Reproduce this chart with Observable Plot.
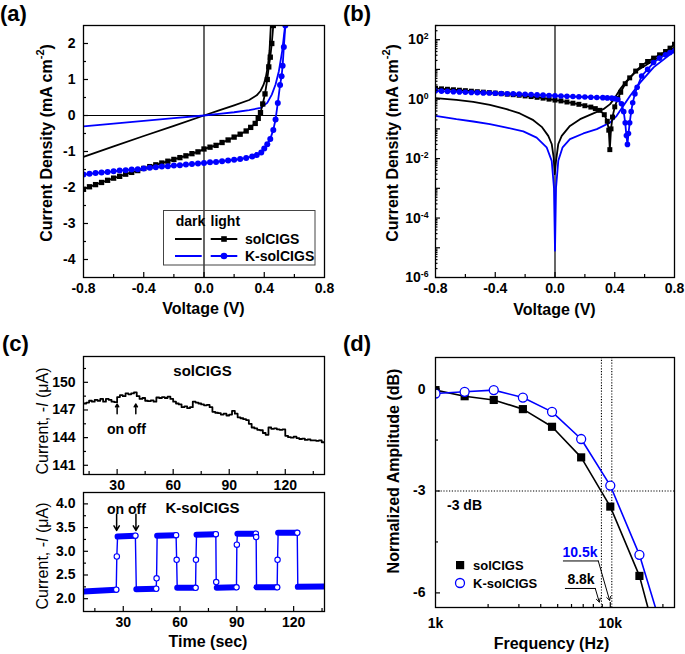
<!DOCTYPE html>
<html><head><meta charset="utf-8">
<script src="https://cdn.jsdelivr.net/npm/d3@7"></script>
<script src="https://cdn.jsdelivr.net/npm/@observablehq/plot@0.6"></script>
<style>
html,body{margin:0;padding:0;background:#fff;}
#root{position:relative;width:685px;height:654px;overflow:hidden;background:#fff;font-family:"Liberation Sans",Arial,Helvetica,sans-serif;}
</style></head>
<body><div id="root"></div>
<script>
// ---------- Panel (a): J-V, linear ----------
const aDarkSolV = [-0.8,-0.6,-0.4,-0.2,0,0.1,0.2,0.3,0.35,0.375,0.395,0.41,0.425,0.435,0.445];
const aDarkSolJ = [-1.15,-0.86,-0.57,-0.29,0,0.14,0.28,0.43,0.56,0.68,0.85,1.05,1.4,1.8,2.6];
const aDarkKV = [-0.8,-0.6,-0.4,-0.2,0,0.1,0.2,0.3,0.375,0.42,0.45,0.475,0.497,0.519,0.534,0.545];
const aDarkKJ = [-0.30,-0.225,-0.15,-0.075,0,0.045,0.09,0.15,0.21,0.35,0.58,0.86,1.23,1.79,2.34,2.7];
const aLightSolV = [-0.8,-0.76,-0.72,-0.68,-0.64,-0.6,-0.56,-0.52,-0.48,-0.44,-0.4,-0.36,-0.32,-0.28,-0.24,-0.2,-0.16,-0.12,-0.08,-0.04,0,0.04,0.08,0.12,0.16,0.2,0.24,0.28,0.31,0.34,0.36,0.375,0.39,0.405,0.42,0.43,0.44,0.45,0.46,0.47];
const aLightSolJ = [-2.05,-1.98,-1.92,-1.86,-1.8,-1.74,-1.69,-1.63,-1.58,-1.53,-1.47,-1.42,-1.37,-1.32,-1.27,-1.22,-1.17,-1.12,-1.06,-1.01,-0.93,-0.88,-0.83,-0.75,-0.68,-0.6,-0.52,-0.43,-0.33,-0.22,-0.08,0.08,0.32,0.6,1.0,1.35,1.62,2.0,2.5,3.0];
const aLightKV = [-0.8,-0.76,-0.72,-0.68,-0.64,-0.6,-0.56,-0.52,-0.48,-0.44,-0.4,-0.36,-0.32,-0.28,-0.24,-0.2,-0.16,-0.12,-0.08,-0.04,0,0.04,0.08,0.12,0.16,0.2,0.24,0.28,0.32,0.35,0.38,0.4,0.42,0.44,0.46,0.475,0.49,0.505,0.515,0.522,0.53,0.54,0.55];
const aLightKJ = [-1.64,-1.62,-1.6,-1.58,-1.57,-1.55,-1.53,-1.52,-1.5,-1.49,-1.47,-1.45,-1.44,-1.42,-1.41,-1.39,-1.38,-1.36,-1.35,-1.33,-1.32,-1.3,-1.29,-1.27,-1.25,-1.23,-1.21,-1.18,-1.14,-1.1,-1.03,-0.92,-0.8,-0.65,-0.4,-0.11,0.35,0.85,1.09,1.38,1.9,2.5,3.2];
const aXMajor = [-0.8,-0.4,0,0.4,0.8], aXMinor = [-0.6,-0.2,0.2,0.6];
const aYMajor = [-4,-3,-2,-1,0,1,2], aYMinor = [-3.5,-2.5,-1.5,-0.5,0.5,1.5];

// ---------- Panel (b): |J|-V, log ----------
const bDarkSolV = [-0.8,-0.66,-0.547,-0.436,-0.324,-0.235,-0.145,-0.089,-0.045,-0.022,-0.009,-0.002,0.007,0.022,0.045,0.1,0.168,0.257,0.324,0.369,0.402,0.436,0.48,0.548,0.637,0.726,0.8];
const bDarkSolJ = [1.08,0.95,0.81,0.64,0.46,0.33,0.196,0.117,0.058,0.031,0.011,0.003,0.0084,0.031,0.058,0.126,0.212,0.33,0.46,0.68,1.14,2.17,4.1,9.0,17.1,32.6,55];
const bDarkKV = [-0.8,-0.66,-0.547,-0.436,-0.324,-0.212,-0.123,-0.056,-0.022,-0.007,0,0.007,0.022,0.051,0.1,0.19,0.28,0.37,0.413,0.458,0.503,0.57,0.66,0.8];
const bDarkKJ = [0.275,0.212,0.177,0.144,0.111,0.082,0.051,0.024,0.0084,0.00106,0.000008,0.00106,0.0084,0.024,0.045,0.07,0.098,0.164,0.275,0.6,1.3,3.6,11.7,42];
const bLightSolV = [-0.8,-0.76,-0.72,-0.68,-0.64,-0.6,-0.56,-0.52,-0.48,-0.44,-0.4,-0.36,-0.32,-0.28,-0.24,-0.2,-0.16,-0.12,-0.08,-0.04,0,0.04,0.08,0.12,0.16,0.2,0.24,0.27,0.3,0.33,0.35,0.36,0.367,0.375,0.385,0.4,0.42,0.44,0.47,0.5,0.54,0.58,0.62,0.66,0.7,0.74,0.77,0.8];
const bLightSolJ = [2.3,2.22,2.15,2.07,2.0,1.93,1.85,1.78,1.72,1.66,1.6,1.53,1.47,1.41,1.35,1.28,1.22,1.15,1.08,1.0,0.93,0.87,0.8,0.73,0.67,0.6,0.54,0.48,0.42,0.3,0.18,0.09,0.02,0.1,0.25,0.55,1.05,1.7,3.3,5.2,8.8,13.5,18.5,24,31,40,52,70];
const bLightKV = [-0.8,-0.76,-0.72,-0.68,-0.64,-0.6,-0.56,-0.52,-0.48,-0.44,-0.4,-0.36,-0.32,-0.28,-0.24,-0.2,-0.16,-0.12,-0.08,-0.04,0,0.04,0.08,0.12,0.16,0.2,0.24,0.28,0.32,0.35,0.38,0.4,0.42,0.445,0.46,0.47,0.478,0.485,0.492,0.5,0.51,0.52,0.535,0.55,0.58,0.62,0.66,0.7,0.74,0.77,0.8];
const bLightKJ = [1.9,1.86,1.82,1.78,1.75,1.71,1.68,1.65,1.62,1.6,1.57,1.55,1.52,1.5,1.47,1.45,1.42,1.39,1.36,1.33,1.3,1.27,1.25,1.22,1.2,1.18,1.16,1.14,1.12,1.1,1.08,1.04,0.97,0.7,0.38,0.16,0.06,0.03,0.07,0.16,0.38,0.75,1.5,2.5,6,10,17,24,31,37,42];
const bYMajor = [1e-6,1e-5,1e-4,1e-3,1e-2,1e-1,1,10,100];
const bYLabels = [1e-6,1e-4,1e-2,1,100];
const bYMinorMult = [2,3,4,5,6,7,8,9];

// ---------- Panel (c): photoresponse ----------
const cSolT = [12,13.5,15,16.5,18,19.5,21,22.5,24,25.5,27,28.5,30,31.5,33,34.5,36,37.5,39,40.5,42,43.5,45,46.5,48,49.5,51,52.5,54,55.5,57,58.5,60,61.5,63,64.5,66,67.5,69,70.5,72,73.5,75,76.5,78,79.5,81,82.5,84,85.5,87,88.5,90,91.5,93,94.5,96,97.5,99,100.5,102,103.5,105,106.5,108,109.5,111,112.5,114,115.5,117,118.5,120,121.5,123,124.5,126,127.5,129,130.5,132,133.5,135,136.5,138,139.5,141];
const cSolI = [147.7,147.8,148.0,147.9,148.1,148.0,148.2,147.9,148.2,148.1,147.9,147.85,148.4,148.6,148.5,148.8,148.7,148.8,148.9,148.5,148.2,148.3,148.0,147.95,148.05,147.9,148.35,148.3,148.4,148.3,148.45,148.2,147.9,147.7,147.6,147.3,147.4,147.2,147.3,147.9,147.8,147.7,147.6,147.5,147.55,147.3,146.8,146.7,146.65,146.5,146.6,146.4,146.5,146.9,146.6,146.2,146.1,146.0,145.9,145.5,145.1,145.0,144.85,144.8,144.5,144.3,145.1,144.95,145.0,144.9,144.85,144.9,144.2,144.05,144.0,144.1,143.95,143.85,143.9,143.75,143.8,143.7,143.7,143.65,143.7,143.5,143.45];
const cKT = [9,26.3,26.6,27,36.4,36.9,47.4,47.6,47.9,57.9,58.2,58.5,68.2,68.4,68.7,78.9,79.1,79.4,89.8,90.0,90.3,100.0,100.2,100.4,111.3,111.5,111.8,121.9,122.2,136.3];
const cKI = [2.15,2.19,2.89,3.31,3.33,2.2,2.21,2.43,3.33,3.34,2.82,2.23,2.23,2.82,3.35,3.36,2.35,2.23,2.24,3.14,3.37,3.37,3.30,2.24,2.24,2.82,3.39,3.39,2.25,2.26];
const cKPlatT1 = [9,27,36.9,47.9,58.5,68.7,79.4,90.3,100.4,111.8,122.2];
const cKPlatT2 = [26.3,36.4,47.4,57.9,68.2,78.9,89.8,100.0,111.3,121.9,136.3];
const cKPlatI1 = [2.15,3.31,2.2,3.33,2.23,3.35,2.23,3.37,2.24,3.39,2.25];
const cKPlatI2 = [2.19,3.33,2.21,3.34,2.23,3.36,2.24,3.37,2.24,3.39,2.26];
const cKMarkT = [26.3,26.6,36.4,47.4,47.6,57.9,58.2,68.2,68.4,78.9,79.1,89.8,90.0,100.0,100.2,111.3,111.5,121.9];
const cKMarkI = [2.19,2.89,3.33,2.21,2.43,3.34,2.82,2.23,2.82,3.36,2.35,2.24,3.14,3.37,3.30,2.24,2.82,3.39];
const cSolArrowT = [30,40], cSolArrowFrom = 146.6, cSolArrowTo = 147.64;
const cKArrowT = [26.5,36.7], cKArrowFrom = 3.78, cKArrowTo = 3.44;
const cXMajor = [30,60,90,120], cXMinor = [15,45,75,105,135];
const cTopYMajor = [141,144,147,150], cTopYMinor = [142.5,145.5,148.5,151.5];
const cBotYMajor = [2,2.5,3,3.5,4], cBotYMinor = [2.25,2.75,3.25,3.75];

// ---------- Panel (d): frequency response ----------
const dFreq = [1000,1468,2154,3162,4642,6813,10000,14678,21544];
const dSol = [-0.03,-0.21,-0.32,-0.59,-1.11,-2.01,-3.46,-5.5,-8.7];
const dK = [-0.13,-0.08,-0.03,-0.25,-0.67,-1.47,-2.84,-4.88,-7.7];
const dCutoffs = [8900,10200];
const dXMinor = [2000,3000,4000,5000,6000,7000,8000,9000,20000];
const dYMajor = [0,-3,-6], dYMinor = [-1.5,-4.5];
// annotation leader lines (freq, dB)
const dLead105 = [[5387,-5.06],[8535,-5.06],[9910,-6.22]];
const dLead88 = [[5530,-5.87],[8203,-5.87],[8650,-6.27]];

// ---------- helpers ----------
const root = document.getElementById("root");
const FONT = '"Liberation Sans", Arial, Helvetica, sans-serif';
const BLUE = "#0000ff";
const st = () => ({background:"transparent", fontFamily:FONT, fontSize:"14px", fontWeight:"bold", color:"black", overflow:"visible"});
function put(svg, left, top){ svg.style.position="absolute"; svg.style.left=left+"px"; svg.style.top=top+"px"; root.appendChild(svg); }
const zip = (xs, ys) => xs.map((x,i)=>({x, y: ys[i]}));
const tx = (vals, fh, len) => Plot.tickX(vals, {x:d=>d, insetTop: fh-len, stroke:"black", strokeWidth:1.2});
const ty = (vals, fw, len) => Plot.tickY(vals, {y:d=>d, insetRight: fw-len, stroke:"black", strokeWidth:1.2});

// ---------- (a) ----------
{
  const fw = 340-83-16, fh = 320-25-43;
  const svg = Plot.plot({
    width:340, height:320, marginLeft:83, marginRight:16, marginTop:25, marginBottom:43,
    x:{domain:[-0.8,0.8]}, y:{domain:[-4.5,2.5]}, style:st(),
    marks:[
      Plot.ruleX([0],{stroke:"black",strokeWidth:1.2}),
      Plot.ruleY([0],{stroke:"black",strokeWidth:1.2}),
      Plot.line(zip(aDarkSolV,aDarkSolJ),{x:"x",y:"y",stroke:"black",strokeWidth:1.8,clip:true}),
      Plot.line(zip(aDarkKV,aDarkKJ),{x:"x",y:"y",stroke:BLUE,strokeWidth:1.8,clip:true}),
      Plot.line(zip(aLightSolV,aLightSolJ),{x:"x",y:"y",stroke:"black",strokeWidth:1.8,clip:true}),
      Plot.dot(zip(aLightSolV,aLightSolJ),{x:"x",y:"y",symbol:"square",r:3,fill:"black",clip:true}),
      Plot.line(zip(aLightKV,aLightKJ),{x:"x",y:"y",stroke:BLUE,strokeWidth:1.8,clip:true}),
      Plot.dot(zip(aLightKV,aLightKJ),{x:"x",y:"y",r:3,fill:BLUE,clip:true}),
      Plot.frame({stroke:"black",strokeWidth:1.3}),
      tx(aXMajor.slice(1,-1),fh,5), tx(aXMinor,fh,3),
      ty(aYMajor,fw,5), ty(aYMinor,fw,3),
      Plot.axisX({ticks:aXMajor,tickSize:0,tickPadding:6,tickFormat:d=>d.toFixed(1),label:null,fontSize:14}),
      Plot.axisY({ticks:aYMajor,tickSize:0,tickPadding:8,tickFormat:d=>String(d),label:null,fontSize:14})
    ]
  });
  put(svg,0,0);
}

// ---------- (b) ----------
{
  const fw = 345-95-11, fh = 320-25-43;
  const minor = [];
  for (const m of bYMajor) for (const k of bYMinorMult) if (m*k <= 300) minor.push(m*k);
  const svg = Plot.plot({
    width:345, height:320, marginLeft:95, marginRight:11, marginTop:25, marginBottom:43,
    x:{domain:[-0.8,0.8]}, y:{type:"log", domain:[1e-6,300]}, style:st(),
    marks:[
      Plot.ruleX([0],{stroke:"black",strokeWidth:1.2}),
      Plot.line(zip(bDarkSolV,bDarkSolJ),{x:"x",y:"y",stroke:"black",strokeWidth:1.8,clip:true}),
      Plot.line(zip(bDarkKV,bDarkKJ),{x:"x",y:"y",stroke:BLUE,strokeWidth:1.8,clip:true}),
      Plot.line(zip(bLightSolV,bLightSolJ),{x:"x",y:"y",stroke:"black",strokeWidth:1.8,clip:true}),
      Plot.dot(zip(bLightSolV,bLightSolJ),{x:"x",y:"y",symbol:"square",r:2.8,fill:"black",clip:true}),
      Plot.line(zip(bLightKV,bLightKJ),{x:"x",y:"y",stroke:BLUE,strokeWidth:1.8,clip:true}),
      Plot.dot(zip(bLightKV,bLightKJ),{x:"x",y:"y",r:2.8,fill:BLUE,clip:true}),
      Plot.frame({stroke:"black",strokeWidth:1.3}),
      tx(aXMajor.slice(1,-1),fh,5), tx(aXMinor,fh,3),
      ty(bYMajor,fw,5), ty(minor,fw,2.5),
      Plot.axisX({ticks:aXMajor,tickSize:0,tickPadding:6,tickFormat:d=>d.toFixed(1),label:null,fontSize:14}),
      Plot.axisY({ticks:bYLabels,tickSize:0,tickPadding:7,tickFormat:d=>"10^"+Math.round(Math.log10(d)),label:null,fontSize:14})
    ]
  });
  d3.select(svg).selectAll("text").each(function(){
    const m = this.textContent.match(/^10\^(-?\d+)$/);
    if (m) { this.textContent = "10"; d3.select(this).append("tspan").attr("dy","-0.55em").attr("font-size","0.62em").text(m[1]); }
  });
  put(svg,340,0);
}

// ---------- (c) top ----------
{
  const fw = 340-83-16, fh = 170-26-26;
  const svg = Plot.plot({
    width:340, height:170, marginLeft:83, marginRight:16, marginTop:26, marginBottom:26,
    x:{domain:[12,141]}, y:{domain:[140,152.8]}, style:st(),
    marks:[
      Plot.line(zip(cSolT,cSolI),{x:"x",y:"y",stroke:"black",strokeWidth:1.8,curve:"step-after",clip:true}),
      Plot.arrow(cSolArrowT,{x1:d=>d,x2:d=>d,y1:()=>cSolArrowFrom,y2:()=>cSolArrowTo,stroke:"black",strokeWidth:1.5,headLength:6}),
      Plot.frame({stroke:"black",strokeWidth:1.3}),
      tx(cXMajor,fh,5), tx(cXMinor,fh,3),
      ty(cTopYMajor,fw,5), ty(cTopYMinor,fw,3),
      Plot.axisX({ticks:cXMajor,tickSize:0,tickPadding:6,tickFormat:d=>String(d),label:null,fontSize:14}),
      Plot.axisY({ticks:cTopYMajor,tickSize:0,tickPadding:8,tickFormat:d=>String(d),label:null,fontSize:14})
    ]
  });
  put(svg,0,330);
}

// ---------- (c) bottom ----------
{
  const fw = 340-83-16, fh = 174-12-43;
  const plat = cKPlatT1.map((t,i)=>({t1:t, t2:cKPlatT2[i], i1:cKPlatI1[i], i2:cKPlatI2[i]}));
  const svg = Plot.plot({
    width:340, height:174, marginLeft:83, marginRight:16, marginTop:12, marginBottom:43,
    x:{domain:[9,136.3]}, y:{domain:[1.73,4.24]}, style:st(),
    marks:[
      Plot.line(zip(cKT,cKI),{x:"x",y:"y",stroke:BLUE,strokeWidth:1.4,clip:true}),
      Plot.link(plat,{x1:"t1",x2:"t2",y1:"i1",y2:"i2",stroke:BLUE,strokeWidth:6,strokeLinecap:"round",clip:true}),
      Plot.dot(zip(cKMarkT,cKMarkI),{x:"x",y:"y",r:2.7,fill:"white",stroke:BLUE,strokeWidth:1.1,clip:true}),
      Plot.arrow(cKArrowT,{x1:d=>d,x2:d=>d,y1:()=>cKArrowFrom,y2:()=>cKArrowTo,stroke:"black",strokeWidth:1.5,headLength:6}),
      Plot.frame({stroke:"black",strokeWidth:1.3}),
      tx(cXMajor,fh,5), tx(cXMinor,fh,3),
      ty(cBotYMajor,fw,5), ty(cBotYMinor,fw,3),
      Plot.axisX({ticks:cXMajor,tickSize:0,tickPadding:6,tickFormat:d=>String(d),label:null,fontSize:14}),
      Plot.axisY({ticks:cBotYMajor,tickSize:0,tickPadding:8,tickFormat:d=>d.toFixed(1),label:null,fontSize:14})
    ]
  });
  put(svg,0,480);
}

// ---------- (d) ----------
{
  const fw = 345-95-11, fh = 324-27-47;
  const sol = zip(dFreq,dSol), kk = zip(dFreq,dK);
  const lead = (pts) => pts.map(([f,db])=>({f,db}));
  const l105 = lead(dLead105), l88 = lead(dLead88);
  const svg = Plot.plot({
    width:345, height:324, marginLeft:95, marginRight:11, marginTop:27, marginBottom:47,
    x:{type:"log", domain:[1000,23300]}, y:{domain:[-6.43,0.93]}, style:st(),
    marks:[
      Plot.ruleY([-3],{stroke:"black",strokeWidth:1.1,strokeDasharray:"1.2,1.6"}),
      Plot.ruleX(dCutoffs,{stroke:"black",strokeWidth:1.1,strokeDasharray:"1.2,1.6"}),
      Plot.line(sol,{x:"x",y:"y",stroke:"black",strokeWidth:1.6,clip:true}),
      Plot.line(kk,{x:"x",y:"y",stroke:BLUE,strokeWidth:1.6,clip:true}),
      Plot.dot(sol,{x:"x",y:"y",symbol:"square",r:4.6,fill:"black",clip:true}),
      Plot.dot(kk,{x:"x",y:"y",r:4.5,fill:"white",stroke:BLUE,strokeWidth:1.3,clip:true}),
      Plot.line(l105.slice(0,2),{x:"f",y:"db",stroke:"black",strokeWidth:1}),
      Plot.arrow([0],{x1:()=>l105[1].f,y1:()=>l105[1].db,x2:()=>l105[2].f,y2:()=>l105[2].db,stroke:"black",strokeWidth:1,headLength:6}),
      Plot.line(l88.slice(0,2),{x:"f",y:"db",stroke:"black",strokeWidth:1}),
      Plot.arrow([0],{x1:()=>l88[1].f,y1:()=>l88[1].db,x2:()=>l88[2].f,y2:()=>l88[2].db,stroke:"black",strokeWidth:1,headLength:6}),
      Plot.frame({stroke:"black",strokeWidth:1.3}),
      tx([10000],fh,5), tx(dXMinor,fh,3),
      ty(dYMajor,fw,5), ty(dYMinor,fw,3),
      Plot.axisX({ticks:[1000,10000],tickSize:0,tickPadding:11,tickFormat:d=>(d/1000)+"k",label:null,fontSize:14}),
      Plot.axisY({ticks:dYMajor,tickSize:0,tickPadding:10,tickFormat:d=>String(d),label:null,fontSize:14})
    ]
  });
  put(svg,340,330);
}

// ---------- overlay: titles, legends, labels ----------
const ov = d3.create("svg").attr("width",685).attr("height",654)
  .style("position","absolute").style("left","0px").style("top","0px").style("pointer-events","none")
  .attr("font-family",FONT).attr("font-weight","bold");
function T(x,y,s,{size=16,anchor="middle",rot=false,fill="black",weight="bold"}={}){
  const t = ov.append("text").attr("x",0).attr("y",0).attr("text-anchor",anchor)
    .attr("dominant-baseline","central").attr("font-size",size).attr("fill",fill).attr("font-weight",weight)
    .attr("transform",`translate(${x},${y})`+(rot?" rotate(-90)":""));
  if (typeof s === "string") t.text(s); else s(t);
  return t;
}
const densityLabel = t => { t.append("tspan").text("Current Density (mA cm"); t.append("tspan").attr("dy",-6).attr("font-size",11).text("-2"); t.append("tspan").attr("dy",6).text(")"); };
const currentLabel = t => { t.append("tspan").text("Current, -"); t.append("tspan").attr("font-style","italic").text("I"); t.append("tspan").text(" (\u03bcA)"); };
// panel labels
T(0,13,"(a)",{size:22,anchor:"start"});
T(343,13,"(b)",{size:22,anchor:"start"});
T(2,343,"(c)",{size:22,anchor:"start"});
T(343,343,"(d)",{size:22,anchor:"start"});
// axis titles
T(203.5,308.5,"Voltage (V)");
T(45.5,143,densityLabel,{rot:true});
T(554.5,309.5,"Voltage (V)");
T(391.5,143,densityLabel,{rot:true});
T(41.5,421,currentLabel,{rot:true,weight:"normal"});
T(41.5,556,currentLabel,{rot:true,weight:"normal"});
T(208,641.5,"Time (sec)");
T(551.5,643,"Frequency (Hz)");
T(393.5,471,"Normalized Amplitude (dB)",{rot:true});
// panel (c) captions
T(202.5,370.5,"solCIGS",{size:15});
T(202.5,507,"K-solCIGS",{size:15});
T(126.5,428.5,"on off",{size:14});
T(126.5,508.5,"on off",{size:14});
// panel (d) annotations
T(447,505,"-3 dB",{size:14,anchor:"start"});
T(580,552,"10.5k",{size:14,fill:BLUE});
T(581,578.5,"8.8k",{size:14});
// legend (a)
ov.append("rect").attr("x",163.5).attr("y",210.5).attr("width",151.5).attr("height",54.5).attr("fill","none").attr("stroke","#444").attr("stroke-width",1);
T(175.7,221,"dark",{size:14,anchor:"start"});
T(210.5,221,"light",{size:14,anchor:"start"});
[[239,"black","solCIGS","square"],[256,BLUE,"K-solCIGS","circle"]].forEach(([y,c,name,sym])=>{
  ov.append("line").attr("x1",175).attr("x2",201.7).attr("y1",y).attr("y2",y).attr("stroke",c).attr("stroke-width",2);
  ov.append("line").attr("x1",210.7).attr("x2",237.3).attr("y1",y).attr("y2",y).attr("stroke",c).attr("stroke-width",2);
  if (sym==="square") ov.append("rect").attr("x",221.2).attr("y",y-2.8).attr("width",5.6).attr("height",5.6).attr("fill",c);
  else ov.append("circle").attr("cx",224).attr("cy",y).attr("r",3.3).attr("fill",c);
  T(245,y,name,{size:14,anchor:"start"});
});
// legend (d)
ov.append("rect").attr("x",456).attr("y",561).attr("width",8.2).attr("height",8.2).attr("fill","black");
ov.append("circle").attr("cx",460).attr("cy",583).attr("r",4.5).attr("fill","white").attr("stroke",BLUE).attr("stroke-width",1.3);
T(473,565,"solCIGS",{size:13,anchor:"start"});
T(473,583,"K-solCIGS",{size:13,anchor:"start"});
root.appendChild(ov.node());
</script>
</body></html>
